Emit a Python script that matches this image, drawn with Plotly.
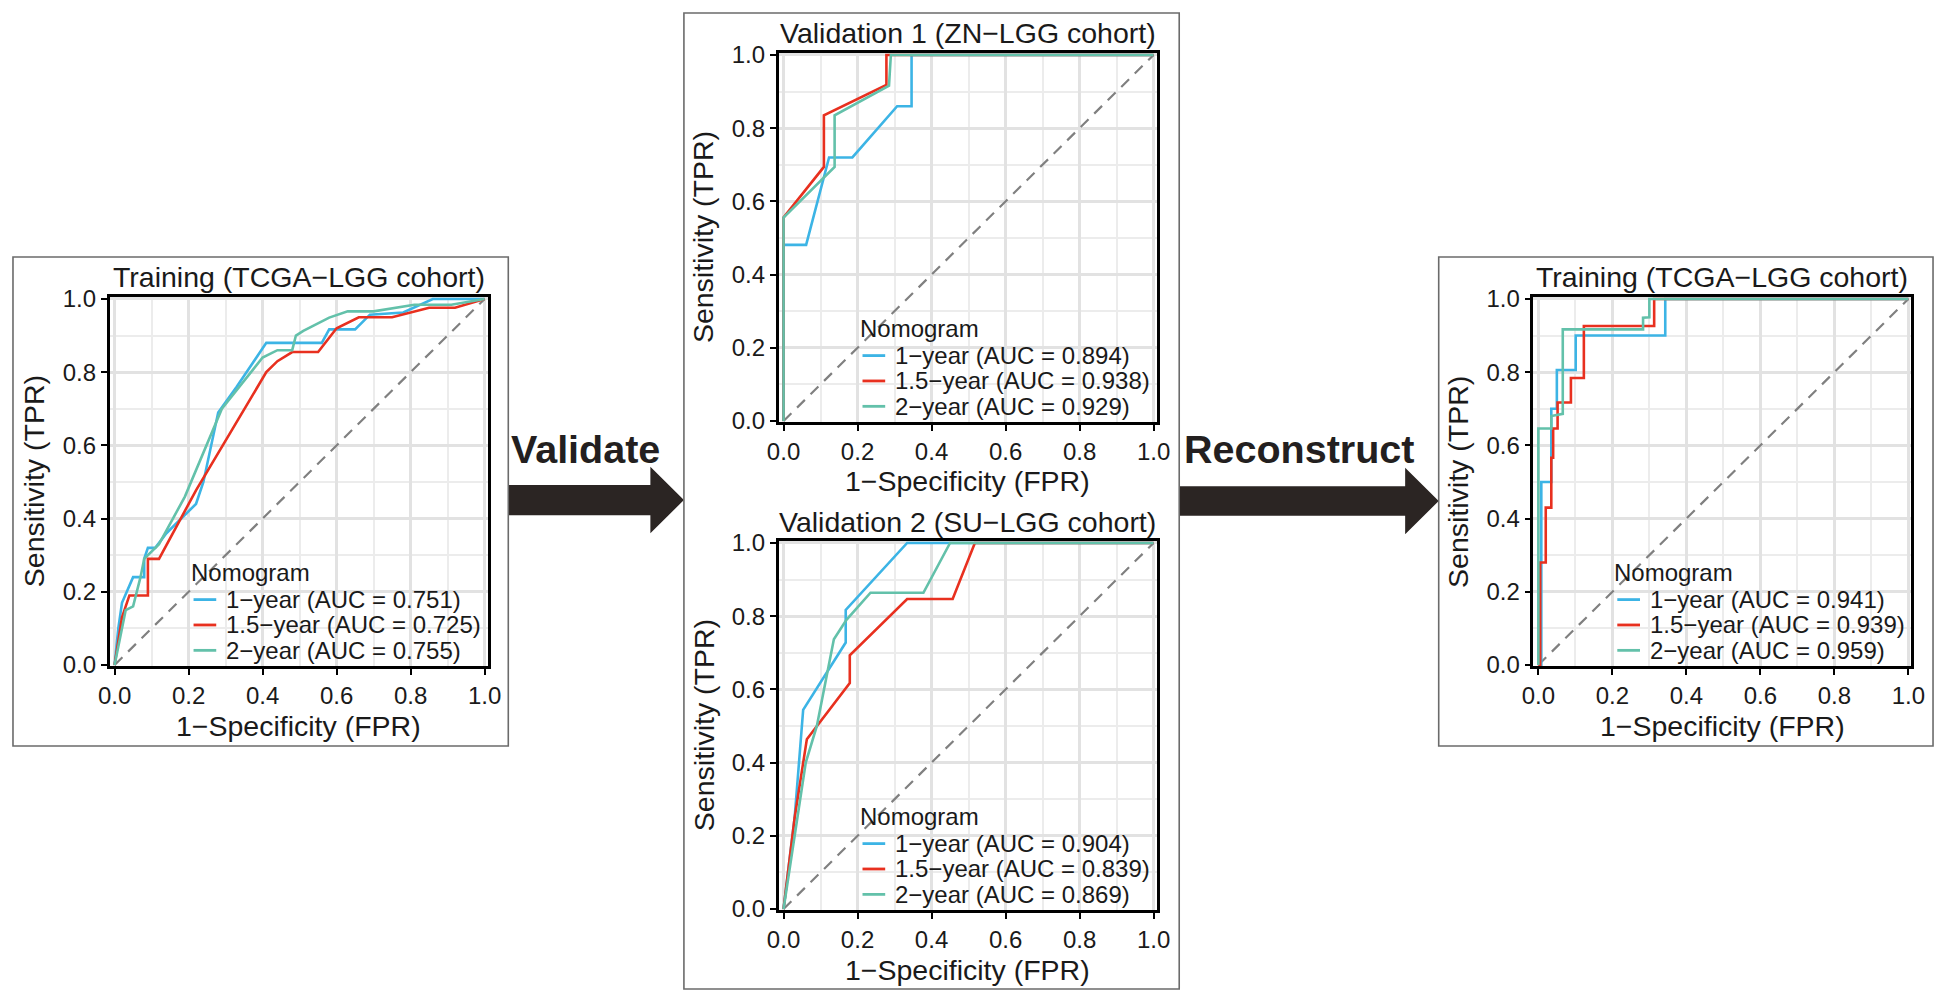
import plotly.graph_objects as go

W, H = 1949, 1003

# series names / colours
years = ["1\u2212year", "1.5\u2212year", "2\u2212year"]
colors = ["#3CB4E5", "#E8301F", "#63C1AA"]

ticks = [0.0, 0.2, 0.4, 0.6, 0.8, 1.0]
tick_text = ["0.0", "0.2", "0.4", "0.6", "0.8", "1.0"]
diag = [0, 1]

# Training (TCGA-LGG cohort), left
train_auc = [0.751, 0.725, 0.755]
train_fpr_1 = [0, 0.01, 0.02, 0.05, 0.08, 0.08, 0.09, 0.11, 0.14, 0.2, 0.22, 0.24, 0.28, 0.33, 0.37, 0.41, 0.56, 0.58, 0.65, 0.69, 0.78, 0.86, 1.0]
train_tpr_1 = [0, 0.10, 0.17, 0.24, 0.24, 0.29, 0.32, 0.32, 0.36, 0.42, 0.44, 0.50, 0.69, 0.76, 0.82, 0.88, 0.88, 0.917, 0.917, 0.957, 0.963, 1.0, 1.0]
train_fpr_15 = [0, 0.02, 0.04, 0.09, 0.09, 0.12, 0.22, 0.41, 0.44, 0.48, 0.55, 0.6, 0.66, 0.75, 0.85, 0.92, 1.0]
train_tpr_15 = [0, 0.13, 0.19, 0.19, 0.29, 0.29, 0.477, 0.80, 0.83, 0.855, 0.855, 0.92, 0.95, 0.95, 0.976, 0.976, 1.0]
train_fpr_2 = [0, 0.02, 0.03, 0.05, 0.06, 0.07, 0.08, 0.09, 0.12, 0.19, 0.29, 0.40, 0.44, 0.48, 0.49, 0.51, 0.58, 0.63, 0.70, 0.81, 0.91, 1.0]
train_tpr_2 = [0, 0.10, 0.15, 0.16, 0.20, 0.24, 0.29, 0.30, 0.33, 0.46, 0.70, 0.84, 0.86, 0.86, 0.90, 0.913, 0.949, 0.966, 0.966, 0.984, 0.984, 1.0]

# Validation 1 (ZN-LGG cohort), middle top
val1_auc = [0.894, 0.938, 0.929]
val1_fpr_1 = [0, 0, 0.061, 0.123, 0.186, 0.307, 0.346, 0.346, 1.0]
val1_tpr_1 = [0, 0.481, 0.481, 0.72, 0.72, 0.86, 0.86, 1.0, 1.0]
val1_fpr_15 = [0, 0, 0.109, 0.109, 0.278, 0.278, 1.0]
val1_tpr_15 = [0, 0.556, 0.694, 0.835, 0.918, 1.0, 1.0]
val1_fpr_2 = [0, 0, 0.138, 0.138, 0.285, 0.29, 1.0]
val1_tpr_2 = [0, 0.556, 0.694, 0.835, 0.916, 1.0, 1.0]

# Validation 2 (SU-LGG cohort), middle bottom
val2_auc = [0.904, 0.839, 0.869]
val2_fpr_1 = [0, 0.03, 0.053, 0.168, 0.168, 0.334, 1.0]
val2_tpr_1 = [0, 0.25, 0.544, 0.728, 0.817, 1.0, 1.0]
val2_fpr_15 = [0, 0.03, 0.063, 0.179, 0.179, 0.334, 0.457, 0.517, 1.0]
val2_tpr_15 = [0, 0.25, 0.464, 0.617, 0.693, 0.847, 0.847, 1.0, 1.0]
val2_fpr_2 = [0, 0.03, 0.06, 0.09, 0.136, 0.17, 0.235, 0.378, 0.45, 1.0]
val2_tpr_2 = [0, 0.2, 0.4, 0.5, 0.737, 0.79, 0.864, 0.864, 1.0, 1.0]

# Training (TCGA-LGG cohort), reconstructed, right
rec_auc = [0.941, 0.939, 0.959]
rec_fpr_1 = [0, 0.008, 0.008, 0.035, 0.035, 0.05, 0.05, 0.101, 0.101, 0.343, 0.343, 1.0]
rec_tpr_1 = [0, 0, 0.5, 0.5, 0.70, 0.70, 0.806, 0.806, 0.9, 0.9, 1.0, 1.0]
rec_fpr_15 = [0, 0.005, 0.005, 0.02, 0.02, 0.035, 0.035, 0.04, 0.04, 0.052, 0.052, 0.088, 0.088, 0.123, 0.123, 0.313, 0.313, 1.0]
rec_tpr_15 = [0, 0, 0.28, 0.28, 0.43, 0.43, 0.566, 0.566, 0.646, 0.646, 0.717, 0.717, 0.784, 0.784, 0.926, 0.926, 1.0, 1.0]
rec_fpr_2 = [0, 0, 0.035, 0.035, 0.066, 0.066, 0.283, 0.283, 0.30, 0.30, 1.0]
rec_tpr_2 = [0, 0.646, 0.646, 0.68, 0.686, 0.917, 0.917, 0.949, 0.95, 1.0, 1.0]

FONT = "Liberation Sans, Arial, sans-serif"
TXT = "#1a1a1a"


def px(x):
    return x / W


def py(y):
    return 1 - y / H


# pixel boxes of each plot area: left, top, right, bottom
panels = [
    dict(title="Training (TCGA\u2212LGG cohort)", box=(99, 292, 482, 670), auc=train_auc,
         curves=[(train_fpr_1, train_tpr_1), (train_fpr_15, train_tpr_15), (train_fpr_2, train_tpr_2)]),
    dict(title="Validation 1 (ZN\u2212LGG cohort)", box=(777, 42, 1160, 420), auc=val1_auc,
         curves=[(val1_fpr_1, val1_tpr_1), (val1_fpr_15, val1_tpr_15), (val1_fpr_2, val1_tpr_2)]),
    dict(title="Validation 2 (SU\u2212LGG cohort)", box=(777, 542, 1160, 920), auc=val2_auc,
         curves=[(val2_fpr_1, val2_tpr_1), (val2_fpr_15, val2_tpr_15), (val2_fpr_2, val2_tpr_2)]),
    dict(title="Training (TCGA\u2212LGG cohort)", box=(1542, 292, 1925, 670), auc=rec_auc,
         curves=[(rec_fpr_1, rec_tpr_1), (rec_fpr_15, rec_tpr_15), (rec_fpr_2, rec_tpr_2)]),
]

fig = go.Figure()
layout = {}
annotations = []
shapes = []


def label(text, x, y, size, anchor="center", angle=0, color=TXT):
    annotations.append(dict(text=text, x=px(x), y=py(y), xref="paper", yref="paper",
                            showarrow=False, xanchor=anchor, yanchor="middle", textangle=angle,
                            font=dict(family=FONT, size=size, color=color)))


for i, p in enumerate(panels):
    n = "" if i == 0 else str(i + 1)
    xa, ya = "x" + n, "y" + n
    l, t, r, b = p["box"]

    fig.add_trace(go.Scatter(x=diag, y=diag, mode="lines", xaxis=xa, yaxis=ya,
                             line=dict(color="#808080", width=2.2, dash="11px,8px"),
                             showlegend=False, hoverinfo="skip"))
    for k, (fx, ty) in enumerate(p["curves"]):
        fig.add_trace(go.Scatter(
            x=fx, y=ty, mode="lines", xaxis=xa, yaxis=ya, showlegend=False,
            name=f"{years[k]} (AUC = {p['auc'][k]:.3f})",
            line=dict(color=colors[k], width=2.6)))

    common = dict(showline=True, linecolor="black", linewidth=2.5, mirror=True,
                  ticks="outside", ticklen=6, tickwidth=2, tickcolor="black",
                  tickvals=ticks, ticktext=tick_text,
                  tickfont=dict(family=FONT, size=24, color=TXT),
                  showgrid=True, gridcolor="#e2e2e2", gridwidth=2.6,
                  minor=dict(dtick=0.1, showgrid=True, gridcolor="#ececec", gridwidth=1.6),
                  zeroline=False, fixedrange=True)
    layout["xaxis" + n] = dict(common, domain=[px(l), px(r)], range=[-0.0133, 1.008], anchor=ya)
    layout["yaxis" + n] = dict(common, domain=[py(b), py(t)], range=[-0.0027, 1.0053], anchor=xa)

    # legend block ("Nomogram") inside the plot, bottom right
    label("Nomogram", l + 80, b - 96, 24, anchor="left")
    for k, off in enumerate([68, 42, 16]):
        shapes.append(dict(type="line", xref="paper", yref="paper",
                           x0=px(l + 85), x1=px(l + 108), y0=py(b - off), y1=py(b - off),
                           line=dict(color=colors[k], width=2.8)))
        label(f"{years[k]} (AUC = {p['auc'][k]:.3f})", l + 116, b - off, 24, anchor="left")

    cx = (l + r) / 2
    label(p["title"], cx, t - 20, 28.5)
    label("1\u2212Specificity (FPR)", cx, b + 61, 28.5)
    label("Sensitivity (TPR)", l - 76, (t + b) / 2, 28.5, angle=-90)

# arrows + labels
label("<b>Validate</b>", 581, 448, 39.5, color="#231f20")
label("<b>Reconstruct</b>", 1304, 448, 39.5, color="#231f20")


def arrow_path(x0, x1, xh, yc, shaft, head):
    pts = [(x0, yc - shaft), (xh, yc - shaft), (xh, yc - head), (x1, yc),
           (xh, yc + head), (xh, yc + shaft), (x0, yc + shaft)]
    return "M " + " L ".join(f"{px(a):.5f},{py(c):.5f}" for a, c in pts) + " Z"


shapes.append(dict(type="path", path=arrow_path(503, 681, 647, 500, 15.5, 34), xref="paper", yref="paper",
                   fillcolor="#2b2523", line=dict(width=0)))
shapes.append(dict(type="path", path=arrow_path(1183, 1446, 1412, 501, 15, 34), xref="paper", yref="paper",
                   fillcolor="#2b2523", line=dict(width=0)))
for (a, b_, c, d) in [(1, 251, 503, 752), (681, 1, 1183, 1001), (1446, 251, 1947, 752)]:
    shapes.append(dict(type="rect", x0=px(a), x1=px(c), y0=py(d), y1=py(b_), xref="paper", yref="paper",
                       line=dict(color="#6b6b6b", width=1.6), fillcolor="rgba(0,0,0,0)"))

fig.update_layout(
    width=W, height=H,
    margin=dict(l=0, r=0, t=0, b=0),
    paper_bgcolor="white", plot_bgcolor="white",
    showlegend=False,
    annotations=annotations, shapes=shapes,
    **layout,
)

fig.write_html("out.html", config={"displayModeBar": False},
               post_script="document.body.style.margin='0';")
